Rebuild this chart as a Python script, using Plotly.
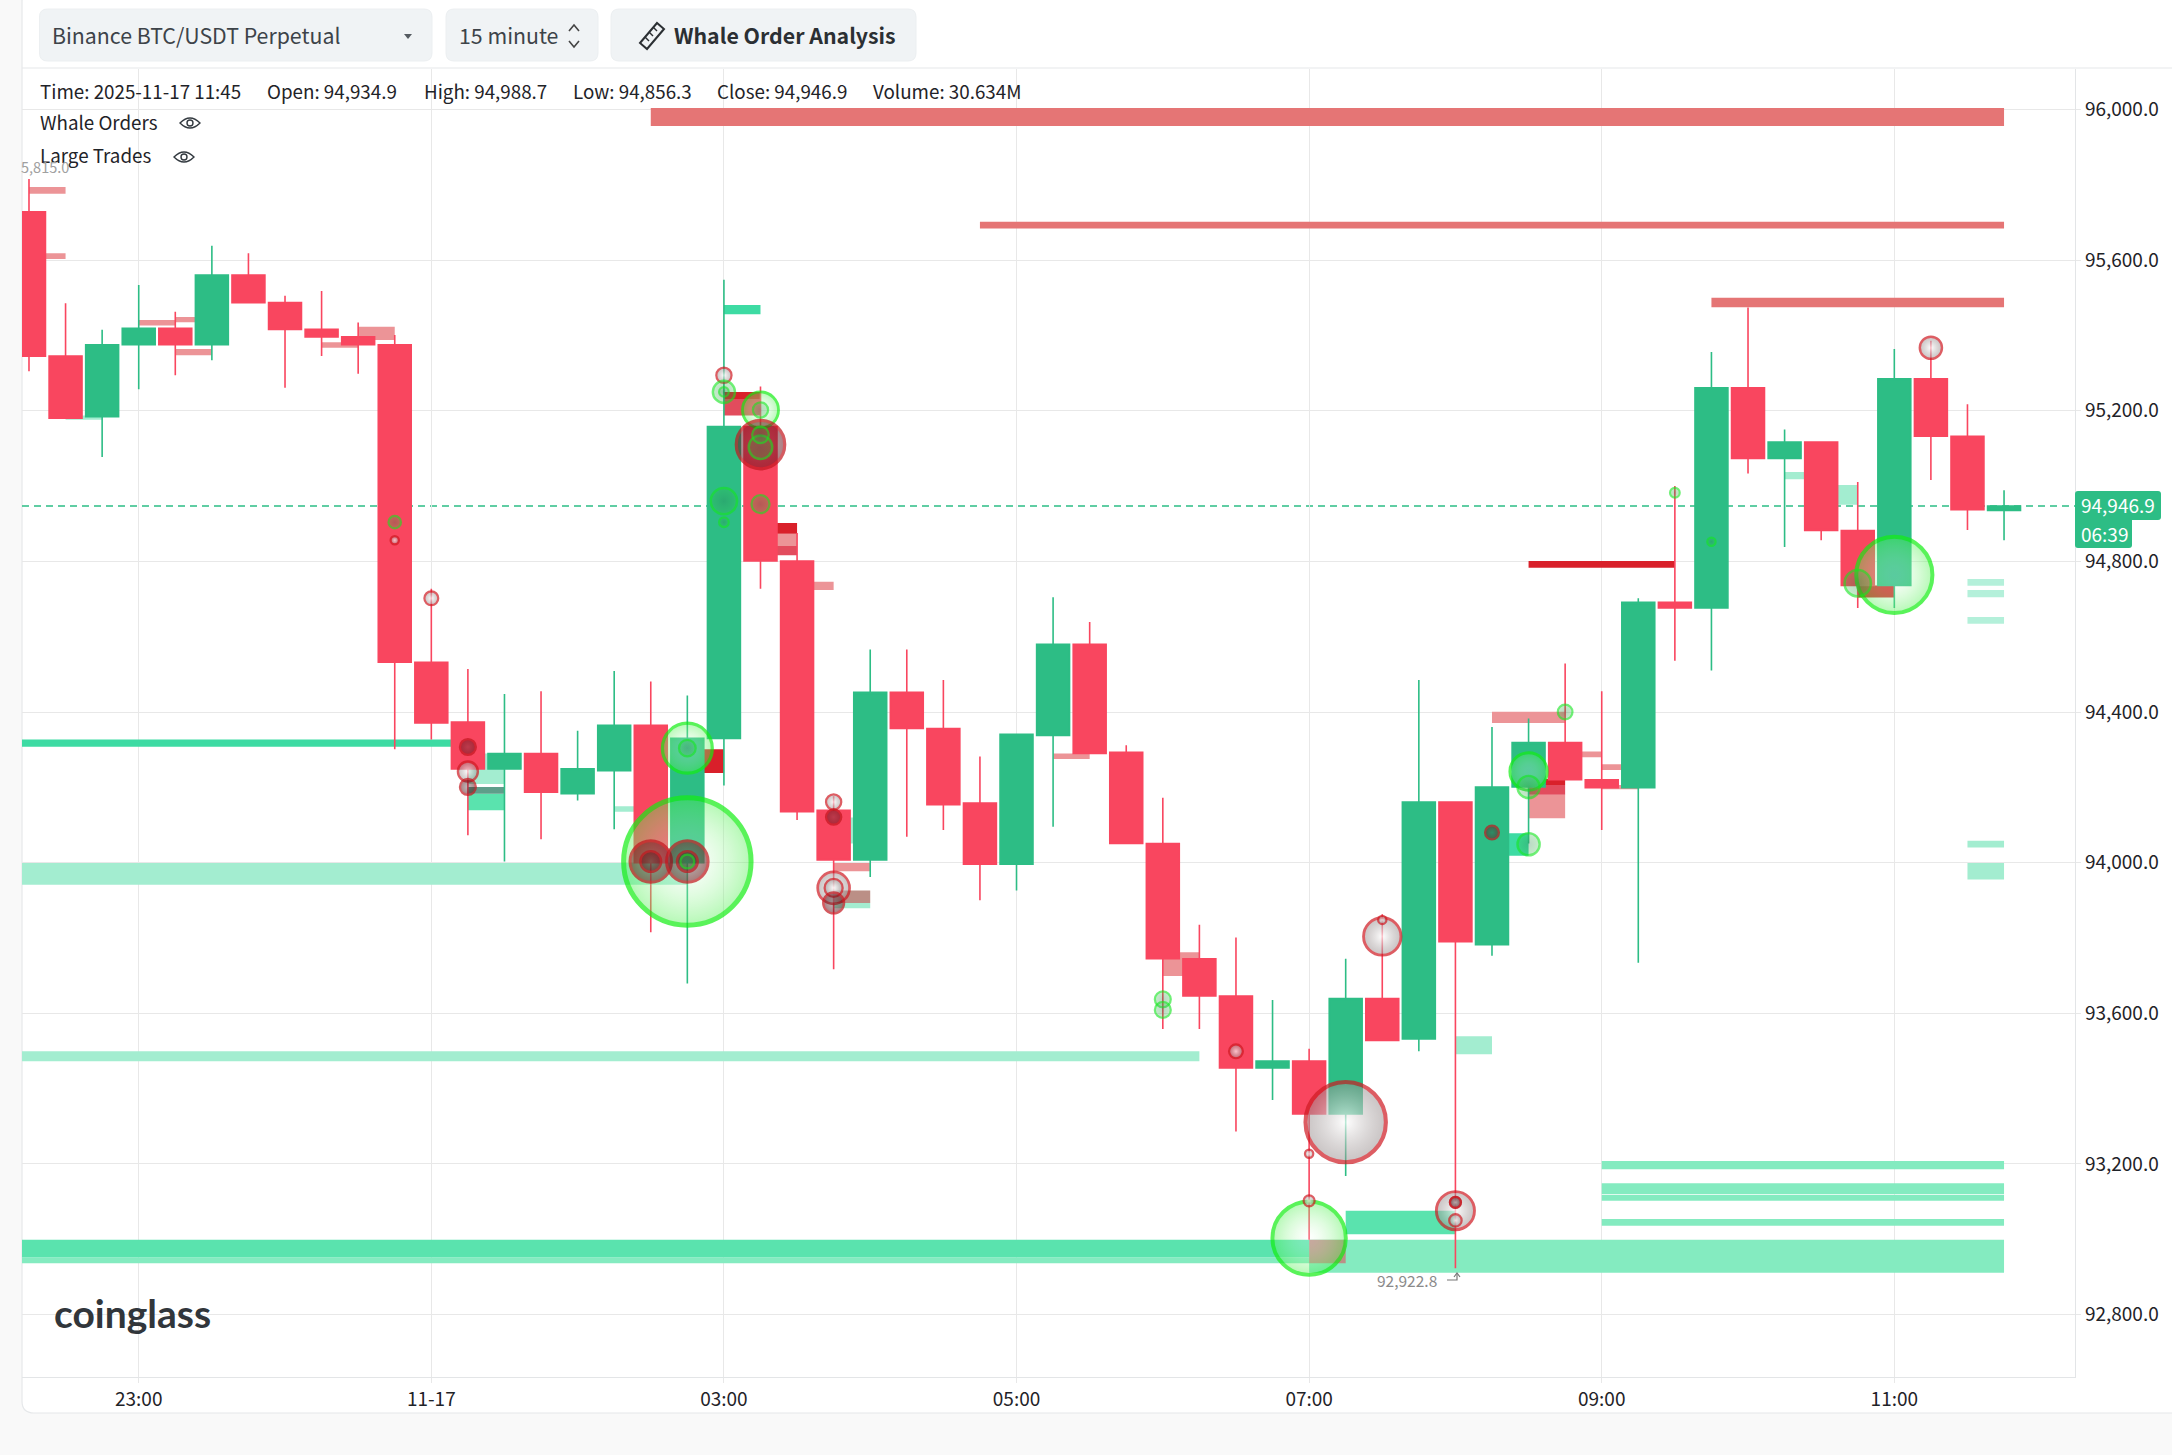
import numpy as np
import pandas as pd
import plotly.graph_objects as go

W, H = 2172, 1455
FONT = "Noto Sans CJK SC"
UP = "#2dbd85"
DOWN = "#f9465f"

# 15 minute candles, 2025-11-16 22:15 to 2025-11-17 11:45
candle_start = "2025-11-16 22:15"
candle_open = [95728, 95345, 95184, 95375, 95419, 95375, 95560, 95487, 95416, 95396, 95375,
               94532, 94373, 94249, 94290, 94183, 94244, 94365, 94000, 94330, 95158, 94801,
               94139, 94007, 94452, 94356, 94158, 93996, 94338, 94580, 94293, 94051, 93745,
               93646, 93455, 93473, 93333, 93639, 93532, 94161, 93782, 94201, 94319, 94220,
               94199, 94691, 94676, 95261, 95073, 95117, 94882, 94736, 95285, 95132, 94934.9]
candle_high = [95815, 95485, 95415, 95534, 95463, 95638, 95618, 95505, 95518, 95434, 95401,
               94727, 94514, 94448, 94455, 94350, 94509, 94481, 94444, 95548, 95264, 94875,
               94176, 94566, 94566, 94485, 94282, 94341, 94705, 94639, 94312, 94172, 93835,
               93801, 93635, 93506, 93745, 93863, 94485, 94161, 94360, 94383, 94529, 94455,
               94702, 95000, 95356, 95474, 95150, 95117, 95011, 95364, 95386, 95217, 94988.7]
candle_low = [95305, 95180, 95077, 95257, 95294, 95334, 95487, 95261, 95345, 95298, 94301,
              94327, 94073, 94003, 94062, 94165, 94089, 93815, 93679, 94205, 94727, 94113,
              93717, 93962, 94069, 94087, 93900, 93926, 94095, 94290, 94051, 93558, 93558,
              93286, 93370, 92999, 93168, 93528, 93499, 92922.8, 93753, 94051, 94220, 94087,
              93734, 94536, 94510, 95033, 94838, 94856, 94676, 94676, 95016, 94883, 94856.3]
candle_close = [95345, 95180, 95375, 95419, 95375, 95560, 95487, 95416, 95396, 95375, 94532,
                94371, 94249, 94290, 94187, 94249, 94365, 94000, 94330, 95158, 94801, 94135,
                94007, 94452, 94356, 94154, 93996, 94341, 94580, 94290, 94051, 93745, 93646,
                93455, 93473, 93333, 93639, 93528, 94161, 93790, 94201, 94319, 94220, 94199,
                94691, 94676, 95261, 95073, 95117, 94882, 94736, 95285, 95132, 94937, 94946.9]

# resting whale orders: start, end, top price, bottom price, kind
wall_start = ["11-17 02:30", "11-17 04:45", "11-17 09:45", "11-16 22:15", "11-16 22:15", "11-16 23:00",
              "11-16 23:15", "11-16 23:15", "11-17 00:15", "11-17 00:30", "11-17 03:00", "11-17 03:00",
              "11-17 03:15", "11-17 03:15", "11-17 03:15", "11-17 03:30", "11-17 02:45", "11-17 03:45",
              "11-17 05:15", "11-17 06:00", "11-17 08:15", "11-17 08:30", "11-17 08:30", "11-17 08:30",
              "11-17 08:45", "11-17 09:00", "11-17 09:00", "11-17 08:30", "11-17 10:45",
              "11-16 22:00", "11-16 22:00", "11-16 22:00", "11-16 22:00", "11-16 22:00", "11-17 07:00",
              "11-17 07:15", "11-17 09:00", "11-17 09:00", "11-17 09:00", "11-17 09:00", "11-17 08:00",
              "11-17 11:30", "11-17 11:30", "11-17 11:30", "11-17 11:30", "11-17 11:30", "11-17 03:00",
              "11-16 22:30", "11-17 02:15", "11-17 03:45", "11-17 03:45", "11-17 01:15", "11-17 01:15",
              "11-17 01:15", "11-17 08:15", "11-17 10:15", "11-17 10:30",
              "11-17 03:45", "11-17 07:00"]
wall_end = ["11-17 11:45", "11-17 11:45", "11-17 11:45", "11-16 22:30", "11-16 22:30", "11-16 23:15",
            "11-16 23:30", "11-16 23:30", "11-17 00:30", "11-17 00:45", "11-17 03:15", "11-17 03:15",
            "11-17 03:30", "11-17 03:30", "11-17 03:30", "11-17 03:45", "11-17 03:00", "11-17 04:00",
            "11-17 05:30", "11-17 06:15", "11-17 08:45", "11-17 08:45", "11-17 08:45", "11-17 08:45",
            "11-17 09:00", "11-17 09:15", "11-17 09:15", "11-17 09:30", "11-17 11:00",
            "11-17 01:15", "11-17 02:45", "11-17 06:15", "11-17 07:00", "11-17 07:00", "11-17 11:45",
            "11-17 08:00", "11-17 11:45", "11-17 11:45", "11-17 11:45", "11-17 11:45", "11-17 08:15",
            "11-17 11:45", "11-17 11:45", "11-17 11:45", "11-17 11:45", "11-17 11:45", "11-17 03:15",
            "11-16 22:45", "11-17 02:30", "11-17 04:00", "11-17 04:00", "11-17 01:30", "11-17 01:30",
            "11-17 01:30", "11-17 08:30", "11-17 10:30", "11-17 10:45",
            "11-17 04:00", "11-17 07:15"]
wall_top = [96004, 95702, 95500, 95794, 95618, 95441, 95449, 95364, 95382, 95423, 95250, 95231,
            94902, 94873, 94841, 94746, 94301, 93999, 94290, 93762, 94401, 94222, 94206, 94180,
            94295, 94261, 94206, 94801, 94736,
            94327, 93999, 93499, 92999, 92952, 92999, 93076, 93208, 93149, 93118, 93054, 93539,
            94753, 94724, 94652, 94058, 93999, 95481, 95187, 94150, 94120, 93893, 94290, 94201,
            94183, 94078, 95037, 95003,
            93926, 92999]
wall_bottom = [95956, 95684, 95475, 95776, 95603, 95426, 95435, 95347, 95367, 95388, 95231, 95187,
               94873, 94841, 94816, 94724, 94238, 93977, 94275, 93699, 94371, 94206, 94180, 94118,
               94280, 94246, 94195, 94783, 94704,
               94308, 93941, 93473, 92952, 92936, 92911, 93013, 93186, 93120, 93102, 93036, 93491,
               94735, 94705, 94634, 94040, 93955, 95456, 95176, 94135, 94051, 93879, 94209, 94183,
               94139, 94018, 95018, 94950,
               93893, 92936]
wall_kind = ["ask_wall", "ask_wall", "ask_wall", "ask_light", "ask_light", "ask_light",
             "ask_light", "ask_light", "ask_light", "ask_light", "ask_dark", "ask_mid",
             "ask_dark", "ask_light", "ask_mid", "ask_light", "ask_dark", "ask_light",
             "ask_light", "ask_light", "ask_light", "ask_dark", "ask_mid", "ask_light",
             "ask_light", "ask_light", "ask_light", "ask_dark", "ask_dark",
             "bid_strong", "bid_light", "bid_light", "bid_mid", "bid_soft", "bid_soft",
             "bid_mid", "bid_soft", "bid_soft", "bid_soft", "bid_soft", "bid_light",
             "bid_pale", "bid_pale", "bid_pale", "bid_light", "bid_light", "bid_strong",
             "bid_light", "bid_light", "bid_light", "bid_light", "bid_light", "bid_dim",
             "bid_mid", "bid_strong", "bid_light", "bid_light",
             "ask_dim", "ask_dim"]

# large trades
buy_time = ["11-17 02:45", "11-17 11:00", "11-17 07:00", "11-17 02:45", "11-17 08:30", "11-17 03:15",
            "11-17 10:45", "11-17 03:00", "11-17 03:15", "11-17 08:30", "11-17 08:30", "11-17 03:00",
            "11-17 03:15", "11-17 03:15", "11-17 02:45", "11-17 06:00", "11-17 06:00", "11-17 03:15",
            "11-17 08:45", "11-17 00:45", "11-17 02:45", "11-17 03:00", "11-17 03:00", "11-17 09:30",
            "11-17 09:45"]
buy_price = [94003, 94764, 93003, 94304, 94242, 95202, 94742, 94960, 95103, 94201, 94049, 95250,
             95136, 94952, 94304, 93637, 93609, 95202, 94400, 94904, 94003, 95250, 94904, 94982, 94852]
buy_size = [92, 55, 53, 36, 27, 26, 19, 19, 17, 16, 16, 16, 12, 13, 12, 11.5, 11.5, 11, 10.6, 9, 10, 7, 7, 7, 6]

sell_time = ["11-17 07:15", "11-17 08:00", "11-17 07:30", "11-17 03:45", "11-17 01:15", "11-17 11:15",
             "11-17 03:45", "11-17 03:45", "11-17 03:00", "11-17 06:30", "11-17 08:00", "11-17 08:00",
             "11-17 07:30", "11-17 07:00", "11-17 07:00", "11-17 01:00", "11-17 00:45"]
sell_price = [93311, 93076, 93804, 93933, 94242, 95367, 93933, 94161, 95294, 93499, 93098, 93050,
              93848, 93227, 93102, 94702, 94856]
sell_size = [58, 27.5, 27, 23, 14.4, 16, 13, 11, 11, 10, 8, 9, 6, 6, 8, 10, 6]

heavy_time = ["11-17 03:15", "11-17 02:30", "11-17 02:45", "11-17 02:30", "11-17 02:45", "11-17 03:45",
              "11-17 03:45", "11-17 01:15", "11-17 01:15", "11-17 08:15", "11-17 08:00"]
heavy_price = [95110, 94003, 94003, 94003, 94003, 93893, 94121, 94307, 94201, 94080, 93098]
heavy_size = [35, 30, 30, 15, 15, 15, 11, 11.5, 11.5, 10, 8]

x_tick_time = ["2025-11-16 23:00", "2025-11-17 01:00", "2025-11-17 03:00", "2025-11-17 05:00",
               "2025-11-17 07:00", "2025-11-17 09:00", "2025-11-17 11:00"]
x_tick_text = ["23:00", "11-17", "03:00", "05:00", "07:00", "09:00", "11:00"]
y_ticks = [92800, 93200, 93600, 94000, 94400, 94800, 95200, 95600, 96000]

info_text = ["Time: 2025-11-17 11:45", "Open: 94,934.9", "High: 94,988.7", "Low: 94,856.3",
             "Close: 94,946.9", "Volume: 30.634M"]
info_x = [37.5, 264.6, 421.5, 570.5, 714.5, 871]

wall_colors = {
    "ask_wall": "#e57575", "ask_dark": "#d9202a", "ask_mid": "#e24c5d", "ask_light": "#ec9497",
    "ask_dim": "#bb8f86", "bid_strong": "#3ddba3", "bid_mid": "#5ae3ae", "bid_soft": "#84ebc0",
    "bid_light": "#a3edd0", "bid_pale": "#b4f0da", "bid_dim": "#5e9e8a",
}


def stamp(s):
    return pd.Timestamp("2025-" + s)


def px(x):
    return x / W


def py(y):
    return 1 - y / H


def rrect(x0, y0, x1, y1, r=8, corners="tl tr br bl"):
    # rounded rectangle path in page pixels, mapped to paper coords
    rs = {c: (r if c in corners.split() else 0) for c in ["tl", "tr", "br", "bl"]}
    return (
        f"M {px(x0 + rs['tl'])} {py(y0)} L {px(x1 - rs['tr'])} {py(y0)} Q {px(x1)} {py(y0)} {px(x1)} {py(y0 + rs['tr'])} "
        f"L {px(x1)} {py(y1 - rs['br'])} Q {px(x1)} {py(y1)} {px(x1 - rs['br'])} {py(y1)} "
        f"L {px(x0 + rs['bl'])} {py(y1)} Q {px(x0)} {py(y1)} {px(x0)} {py(y1 - rs['bl'])} "
        f"L {px(x0)} {py(y0 + rs['tl'])} Q {px(x0)} {py(y0)} {px(x0 + rs['tl'])} {py(y0)} Z"
    )


def poly(points, close=False):
    d = " L ".join(f"{px(a)} {py(b)}" for a, b in points)
    return "M " + d + (" Z" if close else "")


def paper_shape(path, fill=None, line=None, width=1, layer="below"):
    return dict(type="path", xref="paper", yref="paper", path=path, layer=layer,
                fillcolor=fill or "rgba(0,0,0,0)", line=dict(color=line or "rgba(0,0,0,0)", width=width))


def eye(x, y):
    almond = (f"M {px(x - 10)} {py(y)} Q {px(x)} {py(y - 10)} {px(x + 10)} {py(y)} "
              f"Q {px(x)} {py(y + 10)} {px(x - 10)} {py(y)} Z")
    pupil = (f"M {px(x - 3)} {py(y)} Q {px(x - 3)} {py(y - 3)} {px(x)} {py(y - 3)} Q {px(x + 3)} {py(y - 3)} {px(x + 3)} {py(y)} "
             f"Q {px(x + 3)} {py(y + 3)} {px(x)} {py(y + 3)} Q {px(x - 3)} {py(y + 3)} {px(x - 3)} {py(y)} Z")
    return [paper_shape(almond, line="#333a40", width=1.4, layer="above"),
            paper_shape(pupil, line="#333a40", width=1.4, layer="above")]


def label(text, x, y, size=18, color="#1f2328", anchor="left", bold=False, font=FONT):
    return dict(text=f"<b>{text}</b>" if bold else text, x=px(x), y=py(y), xref="paper", yref="paper",
                xanchor=anchor, yanchor="middle", showarrow=False, align=anchor,
                font=dict(family=font, size=size, color=color))


times = pd.date_range(candle_start, periods=len(candle_open), freq="15min")
fig = go.Figure()

# order walls as horizontal bars, they sit under the candles
kinds = np.array(wall_kind)
starts = np.array([stamp(s) for s in wall_start])
ends = np.array([stamp(s) for s in wall_end])
tops = np.array(wall_top, dtype=float)
bottoms = np.array(wall_bottom, dtype=float)
for kind in ["bid_soft", "bid_light", "bid_pale", "bid_mid", "bid_strong", "bid_dim",
             "ask_light", "ask_mid", "ask_dark", "ask_wall", "ask_dim"]:
    m = kinds == kind
    fig.add_trace(go.Bar(
        orientation="h",
        base=[str(s) for s in starts[m]],
        x=[(e - s).total_seconds() * 1000 for s, e in zip(starts[m], ends[m])],
        y=(tops[m] + bottoms[m]) / 2,
        width=tops[m] - bottoms[m],
        marker=dict(color=wall_colors[kind], line=dict(width=0)),
        hoverinfo="skip",
    ))

fig.add_trace(go.Candlestick(
    x=times, open=candle_open, high=candle_high, low=candle_low, close=candle_close,
    increasing=dict(line=dict(color=UP, width=1.6), fillcolor=UP),
    decreasing=dict(line=dict(color=DOWN, width=1.6), fillcolor=DOWN),
    whiskerwidth=0, hoverinfo="skip",
))


def bubbles(t, price, size, outer, center, edge):
    size = np.array(size, dtype=float)
    fig.add_trace(go.Scatter(
        x=[stamp(s) for s in t], y=price, mode="markers", hoverinfo="skip",
        marker=dict(size=size, sizemode="diameter", sizeref=0.722,
                    color=outer, gradient=dict(type="radial", color=center),
                    line=dict(color=edge, width=np.clip(size * 0.04 + 1.8, 2.2, 5))),
    ))


buy_big = np.array(buy_size) >= 20
bubbles(np.array(buy_time)[buy_big], np.array(buy_price)[buy_big], np.array(buy_size)[buy_big],
        "rgba(80,240,80,0.6)", "rgba(255,255,255,0.3)", "#14ee14")
# sell bubbles fade to near white in the middle
bubbles(sell_time, sell_price, sell_size, "rgba(150,140,140,0.72)", "rgba(255,255,255,0.96)", "#cf1a22")
# stacked trades read as dark discs
bubbles(heavy_time, heavy_price, heavy_size, "rgba(110,15,25,0.78)", "rgba(50,30,30,0.42)", "#c3161e")
bubbles(np.array(buy_time)[~buy_big], np.array(buy_price)[~buy_big], np.array(buy_size)[~buy_big],
        "rgba(50,190,70,0.4)", "rgba(40,130,70,0.45)", "rgba(20,230,30,0.85)")

shapes = [
    paper_shape(rrect(22, -10, W + 20, 1413, r=12), fill="white", line="#e6e8ea", width=1.2),
    # current price line
    dict(type="line", xref="paper", yref="y", x0=px(22), x1=px(2075), y0=candle_close[-1], y1=candle_close[-1],
         line=dict(color=UP, width=1.5, dash="7px,5px"), layer="below"),
    # toolbar
    paper_shape(rrect(39.5, 9, 432, 61), fill="#f0f3f5", line="#eceff1"),
    paper_shape(rrect(446, 9, 598, 61), fill="#f0f3f5", line="#eceff1"),
    paper_shape(rrect(611, 9, 916, 61), fill="#f0f3f5", line="#eceff1"),
    paper_shape(poly([(404, 34), (412, 34), (408, 39)], close=True), fill="#555b61"),
    paper_shape(poly([(569, 31), (574, 25), (579, 31)]), line="#444", width=1.6),
    paper_shape(poly([(569, 41), (574, 47), (579, 41)]), line="#444", width=1.6),
    paper_shape(poly([(640, 43), (657, 23), (664, 29), (647, 49)], close=True), line="#2b2f33", width=2),
    paper_shape(poly([(645, 37), (649, 41)]), line="#2b2f33", width=1.5),
    paper_shape(poly([(649, 32), (653, 36)]), line="#2b2f33", width=1.5),
    paper_shape(poly([(653, 27), (657, 31)]), line="#2b2f33", width=1.5),
    paper_shape(poly([(22, 68), (W, 68)]), line="#e6e8ea", width=1.2),
    # live price tags
    paper_shape(rrect(2075, 491, 2161, 520, r=3, corners="tl tr br"), fill=UP, layer="above"),
    paper_shape(rrect(2075, 520, 2132, 548, r=3, corners="br bl"), fill=UP, layer="above"),
    # low marker arrow
    paper_shape(poly([(1447, 1280), (1457, 1280), (1457, 1274)]), line="#777", width=1.2, layer="above"),
    paper_shape(poly([(1454, 1277), (1457, 1273), (1460, 1277)]), line="#777", width=1.2, layer="above"),
] + eye(190, 123) + eye(184, 157)

annotations = [
    label("Binance BTC/USDT Perpetual", 50, 34, size=21.3, color="#3d4349"),
    label("15 minute", 457, 34, size=21.3, color="#3d4349"),
    label("Whale Order Analysis", 672, 34, size=21.3, color="#2b2f33", bold=True),
    label("Whale Orders", 37.5, 121, size=18.8),
    label("Large Trades", 37.5, 155, size=18.8),
    label("5,815.0", 71, 166, size=14.5, color="#a0a0a0", anchor="right"),
    label("92,922.8", 1439, 1280, size=15.5, color="#8a8a8a", anchor="right"),
    label("coinglass", 52, 1313, size=39, color="#31363b", bold=True, font="Lato"),
    label(f"{candle_close[-1]:,.1f}", 2079, 504, size=19, color="white"),
    label("06:39", 2079, 533, size=19, color="white"),
]
for text, x in zip(info_text, info_x):
    annotations.append(label(text, x, 90, size=18.8))

fig.update_layout(
    width=W, height=H,
    margin=dict(l=0, r=0, t=0, b=0),
    paper_bgcolor="#f9f9f9", plot_bgcolor="white",
    showlegend=False, barmode="overlay", boxgap=0.1, boxgroupgap=0,
    font=dict(family=FONT, size=18, color="#1f2328"),
    shapes=shapes, annotations=annotations,
    xaxis=dict(
        type="date", domain=[px(22), px(2075)],
        range=["2025-11-16 22:12:08", "2025-11-17 12:14:06"],
        tickmode="array", tickvals=x_tick_time, ticktext=x_tick_text,
        showgrid=True, gridcolor="#e8e8e8", gridwidth=1.4,
        ticks="outside", ticklen=5, tickcolor="#e8e8e8", tickwidth=1.4,
        showline=True, linecolor="#e3e5e7", linewidth=1.2,
        zeroline=False, rangeslider=dict(visible=False),
        tickfont=dict(family=FONT, size=19, color="#1f2328"),
    ),
    yaxis=dict(
        domain=[py(1377), py(69)], side="right", range=[92634.3, 96107.3],
        tickmode="array", tickvals=y_ticks, tickformat=",.1f",
        showgrid=True, gridcolor="#e8e8e8", gridwidth=1.4,
        ticks="outside", ticklen=5, tickcolor="#e8e8e8", tickwidth=1.4,
        showline=True, linecolor="#e3e5e7", linewidth=1.2,
        zeroline=False,
        tickfont=dict(family=FONT, size=19, color="#1f2328"),
    ),
)

fig.write_html(
    "out.html",
    config=dict(displayModeBar=False),
    post_script="document.body.style.margin='0';document.body.style.overflow='hidden';document.body.style.background='#f9f9f9';",
)
